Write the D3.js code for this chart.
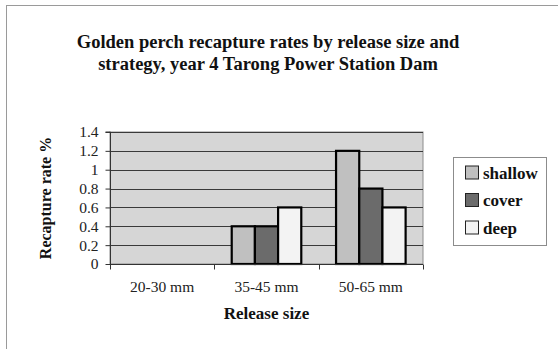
<!DOCTYPE html>
<html>
<head>
<meta charset="utf-8">
<script src="https://cdn.jsdelivr.net/npm/d3@7"></script>
<style>
  html, body { margin: 0; padding: 0; background: #fff; }
  svg { display: block; font-family: "Liberation Serif", "Times New Roman", serif; }
</style>
</head>
<body>
<svg id="chart" width="558" height="349"></svg>
<script>
// Recapture rates (%) by release size class and release strategy
const categories = ["20-30 mm", "35-45 mm", "50-65 mm"];
const seriesNames = ["shallow", "cover", "deep"];
const shallow = [0, 0.4, 1.2];
const cover = [0, 0.4, 0.8];
const deep = [0, 0.6, 0.6];
const yTicks = [0, 0.2, 0.4, 0.6, 0.8, 1, 1.2, 1.4];

const seriesValues = { shallow, cover, deep };
const colors = { shallow: "#c0c0c0", cover: "#6b6b6b", deep: "#f3f3f3" };

const svg = d3.select("#chart");

// outer chart frame
svg.append("rect")
  .attr("x", 6.5).attr("y", 5.5).attr("width", 620).attr("height", 420)
  .attr("fill", "none").attr("stroke", "#9a9a9a").attr("stroke-width", 1);

const plot = { left: 110, right: 423, top: 132, bottom: 264 };

const x0 = d3.scaleBand().domain(categories).range([plot.left, plot.right]).padding(0);
const x1 = d3.scaleBand().domain(seriesNames).range([0, x0.bandwidth()])
  .paddingInner(0).paddingOuter(0.75);
const y = d3.scaleLinear().domain([0, 1.4]).range([plot.bottom, plot.top]);

// plot background
svg.append("rect")
  .attr("x", plot.left).attr("y", plot.top)
  .attr("width", plot.right - plot.left).attr("height", plot.bottom - plot.top)
  .attr("fill", "#d6d6d6").attr("stroke", "#8c8c8c").attr("stroke-width", 1);

// horizontal gridlines
svg.append("g").selectAll("line")
  .data(yTicks.filter(d => d > 0))
  .join("line")
  .attr("x1", plot.left).attr("x2", plot.right)
  .attr("y1", d => Math.round(y(d)) + 0.5).attr("y2", d => Math.round(y(d)) + 0.5)
  .attr("stroke", "#3a3a3a").attr("stroke-width", 1);

// bars
const groups = svg.append("g").selectAll("g")
  .data(categories)
  .join("g")
  .attr("transform", d => `translate(${x0(d)},0)`);

groups.selectAll("rect")
  .data((c, i) => seriesNames.map(s => ({ s, v: seriesValues[s][i] })).filter(d => d.v > 0))
  .join("rect")
  .attr("x", d => x1(d.s))
  .attr("y", d => y(d.v))
  .attr("width", x1.bandwidth())
  .attr("height", d => y(0) - y(d.v))
  .attr("fill", d => colors[d.s])
  .attr("stroke", "#000").attr("stroke-width", 2.2);

// y axis
const yAxis = d3.axisLeft(y).tickValues(yTicks).tickSize(5).tickPadding(7)
  .tickFormat(d => String(+d.toFixed(1)));
const gy = svg.append("g").attr("transform", `translate(${plot.left + 0.5},0)`).call(yAxis);
gy.attr("font-family", null);
gy.select(".domain").attr("stroke", "#333").attr("d", `M-5,${plot.top}H0V${plot.bottom}`);
gy.selectAll(".tick line").attr("stroke", "#333");
gy.selectAll(".tick text").attr("font-size", 15.5).attr("fill", "#222")
  .attr("font-family", "Liberation Serif, serif");

// x axis: ticks at category boundaries
const gx = svg.append("g").attr("transform", `translate(0,${plot.bottom + 0.5})`);
gx.append("line").attr("x1", plot.left).attr("x2", plot.right)
  .attr("stroke", "#333").attr("stroke-width", 1);
const boundaries = categories.map(c => x0(c)).concat([x0(categories[categories.length - 1]) + x0.bandwidth()]);
gx.selectAll("line.tk").data(boundaries).join("line").attr("class", "tk")
  .attr("x1", d => Math.round(d) + 0.5).attr("x2", d => Math.round(d) + 0.5)
  .attr("y1", 0).attr("y2", 5).attr("stroke", "#333");
gx.selectAll("text").data(categories).join("text")
  .attr("x", d => x0(d) + x0.bandwidth() / 2)
  .attr("y", 27)
  .attr("text-anchor", "middle")
  .attr("font-size", 15.5).attr("fill", "#222")
  .text(d => d);

// axis titles
svg.append("text")
  .attr("x", (plot.left + plot.right) / 2).attr("y", 319)
  .attr("text-anchor", "middle").attr("font-weight", "bold").attr("font-size", 17)
  .attr("fill", "#111")
  .text("Release size");

svg.append("text")
  .attr("transform", `translate(51,${(plot.top + plot.bottom) / 2}) rotate(-90)`)
  .attr("text-anchor", "middle").attr("font-weight", "bold").attr("font-size", 16)
  .attr("fill", "#111")
  .text("Recapture rate %");

// chart title
const title = svg.append("text")
  .attr("text-anchor", "middle").attr("font-weight", "bold").attr("font-size", 18.5)
  .attr("fill", "#111");
title.append("tspan").attr("x", 268).attr("y", 48)
  .text("Golden perch recapture rates by release size and");
title.append("tspan").attr("x", 268).attr("y", 70)
  .text("strategy, year 4 Tarong Power Station Dam");

// legend
const legend = svg.append("g");
legend.append("rect")
  .attr("x", 453.5).attr("y", 157.5).attr("width", 93).attr("height", 88)
  .attr("fill", "#fff").attr("stroke", "#8c8c8c").attr("stroke-width", 1);
const items = legend.selectAll("g.item").data(seriesNames).join("g").attr("class", "item")
  .attr("transform", (d, i) => `translate(465,${173 + i * 27.5})`);
items.append("rect")
  .attr("x", 0.5).attr("y", -7).attr("width", 13).attr("height", 13)
  .attr("fill", d => colors[d]).attr("stroke", "#222").attr("stroke-width", 1);
items.append("text")
  .attr("x", 18).attr("y", 5.5)
  .attr("font-weight", "bold").attr("font-size", 17).attr("fill", "#111")
  .text(d => d);
</script>
</body>
</html>
